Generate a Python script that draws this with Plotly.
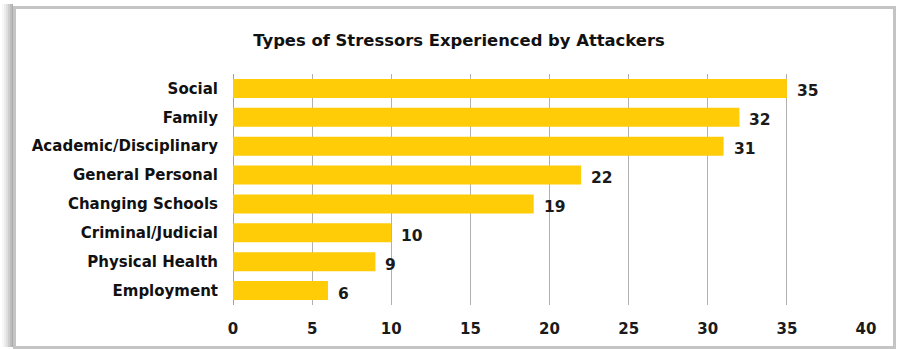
import plotly.graph_objects as go

categories = ["Social", "Family", "Academic/Disciplinary", "General Personal",
              "Changing Schools", "Criminal/Judicial", "Physical Health", "Employment"]
values = [35, 32, 31, 22, 19, 10, 9, 6]
tick_vals = [0, 5, 10, 15, 20, 25, 30, 35, 40]
title_text = "Types of Stressors Experienced by Attackers"

W, H = 898, 349
L, R, T, B = 233, 32, 74, 44
pw, ph = W - L - R, H - T - B
FONT = "DejaVu Sans"

def px_x(x):
    return (x - L) / pw

def px_y(y):
    return (H - B - y) / ph

fig = go.Figure()
fig.add_trace(go.Bar(
    y=categories, x=values, orientation="h",
    marker=dict(color="#FFCC07", line=dict(width=0)),
    cliponaxis=False, width=0.66,
))

annotations = [dict(x=v, y=c, xref="x", yref="y", text="<b>" + str(v) + "</b>",
                    showarrow=False, xanchor="left", yanchor="middle",
                    xshift=8, yshift=-3,
                    font=dict(family=FONT, size=15.5, color="#1a1a1a"))
               for c, v in zip(categories, values)]

shapes = []
# left shadow
for i, op in enumerate([0.05, 0.08, 0.12, 0.16, 0.2, 0.25]):
    shapes.append(dict(type="rect", xref="paper", yref="paper",
                       x0=px_x(2 + i * 2), x1=px_x(13), y0=px_y(347), y1=px_y(4),
                       fillcolor=f"rgba(120,120,120,{op})", line=dict(width=0), layer="below"))
# frame
shapes.append(dict(type="rect", xref="paper", yref="paper",
                   x0=px_x(14.5), x1=px_x(894.5), y0=px_y(347.5), y1=px_y(7.5),
                   fillcolor="white", line=dict(color="#c4c4c4", width=3), layer="below"))

fig.update_layout(
    width=W, height=H, margin=dict(l=L, r=R, t=T, b=B),
    paper_bgcolor="white", plot_bgcolor="rgba(0,0,0,0)",
    shapes=shapes, annotations=annotations, showlegend=False,
    title=dict(text="<b>" + title_text + "</b>", x=459 / W, xanchor="center",
               y=1 - 40 / H, yanchor="middle",
               font=dict(family=FONT, size=16.4, color="#111111")),
    xaxis=dict(range=[0, 40], tickvals=tick_vals, showgrid=True, gridcolor="#b0b0b0",
               gridwidth=1, zeroline=True, zerolinecolor="#a0a0a0", zerolinewidth=1,
               ticks="", tickfont=dict(family=FONT, size=15, color="#1a1a1a"),
               showline=False, ticklabelstandoff=13),
    yaxis=dict(categoryorder="array", categoryarray=categories[::-1],
               range=[-0.5, 7.5], showgrid=False, ticks="", showline=False,
               tickfont=dict(family=FONT, size=15, color="#111111"),
               ticklabelstandoff=14),
)
fig.update_yaxes(ticktext=["<b>" + c + "</b>" for c in categories], tickvals=categories)
fig.update_xaxes(ticktext=["<b>" + str(t) + "</b>" for t in tick_vals])
fig.write_html("out.html")
